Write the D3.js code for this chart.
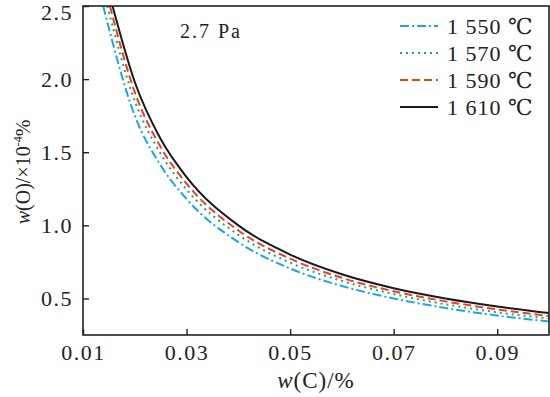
<!DOCTYPE html>
<html>
<head>
<meta charset="utf-8">
<script src="https://cdn.jsdelivr.net/npm/d3@7"></script>
<style>
body { margin: 0; background: #fff; }
text { font-family: "Liberation Serif", "DejaVu Serif", serif; fill: #222; }
</style>
</head>
<body>
<div class="chart"></div>
<script>
const width = 550;
const height = 397;

// series: w(C) in %, w(O) in 1e-4 %
const cBlue = [0.0139, 0.02, 0.025, 0.03, 0.04, 0.05, 0.06, 0.07, 0.08, 0.09, 0.1];
const oBlue = [2.5, 1.75, 1.41, 1.18, 0.885, 0.705, 0.585, 0.50, 0.435, 0.383, 0.343];
const cGreen = [0.0147, 0.02, 0.025, 0.03, 0.04, 0.05, 0.06, 0.07, 0.08, 0.09, 0.1];
const oGreen = [2.5, 1.85, 1.49, 1.245, 0.935, 0.745, 0.62, 0.53, 0.46, 0.405, 0.363];
const cRed = [0.0152, 0.02, 0.025, 0.03, 0.04, 0.05, 0.06, 0.07, 0.08, 0.09, 0.1];
const oRed = [2.5, 1.91, 1.535, 1.285, 0.965, 0.772, 0.641, 0.549, 0.48, 0.425, 0.38];
const cBlack = [0.0157, 0.02, 0.025, 0.03, 0.04, 0.05, 0.06, 0.07, 0.08, 0.09, 0.1];
const oBlack = [2.5, 1.98, 1.59, 1.33, 1.0, 0.80, 0.665, 0.57, 0.50, 0.445, 0.40];

const seriesNames = ["1 550 ℃", "1 570 ℃", "1 590 ℃", "1 610 ℃"];
const xTicks = [0.01, 0.03, 0.05, 0.07, 0.09];
const yTicks = [0.5, 1.0, 1.5, 2.0, 2.5];

const series = [
    {name: seriesNames[0], c: cBlue, o: oBlue, color: "#1ea6e0", dash: "9,3,2,3"},
    {name: seriesNames[1], c: cGreen, o: oGreen, color: "#2ea25a", dash: "2,4"},
    {name: seriesNames[2], c: cRed, o: oRed, color: "#e8402e", dash: "8,4"},
    {name: seriesNames[3], c: cBlack, o: oBlack, color: "#1a1a1a", dash: null}
];

const m = {left: 83, right: 1, top: 6, bottom: 62};

let svg = d3.select(".chart")
    .append("svg")
    .attr("width", width)
    .attr("height", height);

let x = d3.scaleLinear().domain([0.01, 0.1]).range([m.left, width - m.right]);
let y = d3.scaleLinear().domain([0.25, 2.5]).range([height - m.bottom, m.top]);

svg.append("clipPath").attr("id", "plot")
    .append("rect")
    .attr("x", m.left).attr("y", m.top)
    .attr("width", width - m.right - m.left)
    .attr("height", height - m.bottom - m.top);

let line = d3.line()
    .x(d => x(d[0]))
    .y(d => y(d[1]))
    .curve(d3.curveMonotoneX);

series.forEach(s => {
    let pts = s.c.map((v, i) => [v, s.o[i]]);
    svg.append("path")
        .attr("clip-path", "url(#plot)")
        .attr("d", line(pts))
        .attr("fill", "none")
        .attr("stroke", s.color)
        .attr("stroke-width", 2)
        .attr("stroke-dasharray", s.dash);
});

// frame
svg.append("rect")
    .attr("x", m.left).attr("y", m.top)
    .attr("width", width - m.right - m.left)
    .attr("height", height - m.bottom - m.top)
    .attr("fill", "none")
    .attr("stroke", "#222")
    .attr("stroke-width", 1.6);

// axes with inward ticks
let xAxis = svg.append("g")
    .attr("transform", `translate(0,${height - m.bottom})`)
    .call(d3.axisBottom(x).tickValues(xTicks).tickSizeInner(-6).tickSizeOuter(0).tickPadding(9).tickFormat(d3.format(".2f")));
let yAxis = svg.append("g")
    .attr("transform", `translate(${m.left},0)`)
    .call(d3.axisLeft(y).tickValues(yTicks).tickSizeInner(-6).tickSizeOuter(0).tickPadding(10).tickFormat(d3.format(".1f")));

[xAxis, yAxis].forEach(g => {
    g.select(".domain").remove();
    g.selectAll("line").attr("stroke", "#222").attr("stroke-width", 1.4);
    g.selectAll("text")
        .style("font-family", "'Liberation Serif', serif")
        .style("font-size", "22px")
        .style("letter-spacing", "1.5px")
        .attr("fill", "#222");
});
// top label pushed down so it stays inside the picture
yAxis.selectAll(".tick").filter(d => d === 2.5).select("text").attr("dy", "0.6em");

// legend
let legend = svg.append("g");
series.forEach((s, i) => {
    let ly = 26 + i * 27;
    legend.append("line")
        .attr("x1", 400).attr("x2", 438)
        .attr("y1", ly).attr("y2", ly)
        .attr("stroke", s.color)
        .attr("stroke-width", 2)
        .attr("stroke-dasharray", s.dash);
    legend.append("text")
        .attr("x", 447).attr("y", ly)
        .attr("dy", "0.35em")
        .style("font-size", "22px")
        .style("letter-spacing", "1px")
        .text(s.name);
});

svg.append("text")
    .attr("x", 180).attr("y", 38)
    .style("font-size", "20px")
    .style("letter-spacing", "2px")
    .text("2.7 Pa");

// axis titles
let xt = svg.append("text")
    .attr("x", 316).attr("y", 388)
    .attr("text-anchor", "middle")
    .style("font-size", "23px")
    .style("letter-spacing", "1px");
xt.append("tspan").style("font-style", "italic").text("w");
xt.append("tspan").text("(C)/%");

let yt = svg.append("text")
    .attr("transform", "translate(30,172) rotate(-90)")
    .attr("text-anchor", "middle")
    .style("font-size", "20px");
yt.append("tspan").style("font-style", "italic").text("w");
yt.append("tspan").text("(O)/×10");
yt.append("tspan").attr("dy", "-8").style("font-size", "12px").text("-4");
yt.append("tspan").attr("dy", "8").text("%");
</script>
</body>
</html>
